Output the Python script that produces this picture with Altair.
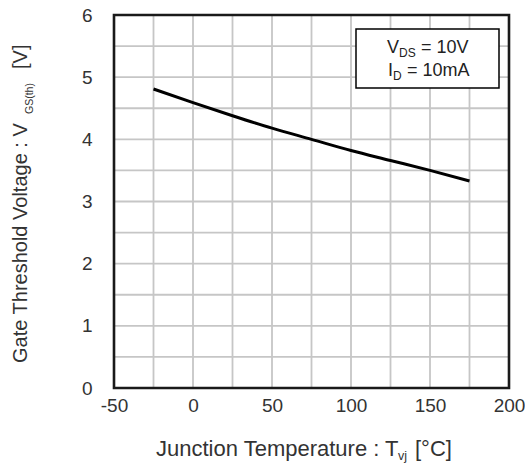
import altair as alt
import pandas as pd

# Gate threshold voltage vs. junction temperature
temps = [-25, 0, 25, 50, 75, 100, 125, 150, 175]
vth = [4.81, 4.59, 4.38, 4.18, 4.00, 3.82, 3.66, 3.50, 3.33]

x_labels = [-50, 0, 50, 100, 150, 200]
y_labels = [0, 1, 2, 3, 4, 5, 6]
x_grid = [-25, 0, 25, 50, 75, 100, 125, 150, 175]
y_grid = [0.5, 1, 1.5, 2, 2.5, 3, 3.5, 4, 4.5, 5, 5.5]

FONT = "Liberation Sans"
TXT = "#333333"
GRID = "#c6c6c6"

xscale = alt.Scale(domain=[-50, 200], nice=False, zero=False)
yscale = alt.Scale(domain=[0, 6], nice=False)

xaxis = alt.Axis(
    values=x_labels,
    labelExpr="'' + datum.value",
    title=None,
    labelPadding=8,
    labelFlush=False,
    grid=False,
    ticks=False,
    domain=False,
)
yaxis = alt.Axis(
    values=y_labels,
    labelExpr="'' + datum.value",
    title=None,
    labelPadding=22,
    labelFlush=False,
    grid=False,
    ticks=False,
    domain=False,
)

df = pd.DataFrame({"T": temps, "V": vth})

# Grid lines
vgrid = alt.Chart(pd.DataFrame({"T": x_grid})).mark_rule(color=GRID, strokeWidth=1.8).encode(
    x=alt.X("T:Q", scale=xscale, axis=xaxis)
)
hgrid = alt.Chart(pd.DataFrame({"V": y_grid})).mark_rule(color=GRID, strokeWidth=1.8).encode(
    y=alt.Y("V:Q", scale=yscale, axis=yaxis)
)

line = alt.Chart(df).mark_line(color="black", strokeWidth=3, interpolate="monotone").encode(
    x=alt.X("T:Q", scale=xscale, axis=xaxis),
    y=alt.Y("V:Q", scale=yscale, axis=yaxis),
)


def piece(text, x, y, size, angle=0, color=TXT):
    kw = dict(text=text, font=FONT, fontSize=size, color=color, align="left", baseline="alphabetic")
    if angle:
        kw["angle"] = angle
    return alt.Chart(alt.Data(values=[{}])).mark_text(**kw).encode(x=alt.value(x), y=alt.value(y))


# Plot frame drawn on top of the grid
frame = alt.Chart(alt.Data(values=[{}])).mark_rect(fillOpacity=0, stroke="#1a1a1a", strokeWidth=2.6).encode(
    x=alt.value(0), x2=alt.value(395), y=alt.value(0), y2=alt.value(373)
)

# Condition box
box = alt.Chart(alt.Data(values=[{}])).mark_rect(fill="white", stroke="black", strokeWidth=1.5).encode(
    x=alt.value(242), x2=alt.value(385), y=alt.value(14), y2=alt.value(73)
)

cond = [
    piece("V", 273, 38, 18, color="#222"),
    piece("DS", 285, 42, 12, color="#222"),
    piece("= 10V", 307, 38, 18, color="#222"),
    piece("I", 274, 61, 18, color="#222"),
    piece("D", 279, 65, 12, color="#222"),
    piece("= 10mA", 293, 61, 18, color="#222"),
]

# Axis titles with subscripts
titles = [
    piece("Junction Temperature : T", 42, 441, 22),
    piece("vj", 284, 445, 12.5),
    piece("[°C]", 301, 441, 22),
    piece("Gate Threshold Voltage : V", -87, 348, 20, angle=270),
    piece("GS(th)", -81, 99, 10.5, angle=270),
    piece("[V]", -87, 54, 20, angle=270),
]

chart = alt.layer(vgrid, hgrid, line, frame, box, *cond, *titles).properties(
    width=395,
    height=373,
    autosize=alt.AutoSizeParams(type="none"),
    padding={"left": 114, "top": 15, "right": 16, "bottom": 78},
).configure_view(
    stroke=None
).configure_axis(
    labelFont=FONT,
    labelFontSize=19,
    labelColor=TXT,
)

chart.save("out.html", embed_options={"renderer": "svg", "actions": False})
